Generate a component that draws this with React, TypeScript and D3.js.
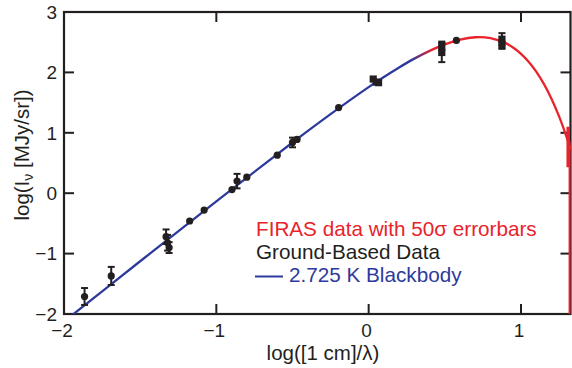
import React from "react";
import * as d3 from "d3";

// Blackbody curve (2.725 K)
const curveX = [-2, -1.5, -1, -0.5, -0.25, 0, 0.1, 0.2, 0.3, 0.4, 0.5, 0.6, 0.7, 0.8, 0.9, 0.95, 1.0, 1.05, 1.1, 1.15, 1.2, 1.25, 1.3, 1.325];
const curveY = [-2.125, -1.127, -0.135, 0.84, 1.31, 1.757, 1.924, 2.082, 2.228, 2.357, 2.465, 2.543, 2.582, 2.568, 2.484, 2.409, 2.308, 2.178, 2.013, 1.81, 1.565, 1.271, 0.924, 0.728];

// FIRAS tail (error band at the high-frequency end)
const firasTailX = [1.31];
const firasTailLo = [0.43];
const firasTailHi = [1.1];
const firasDropX = [1.319];
const firasDropTop = [0.85];

// Ground-based data: x, y, error (0 = none)
const groundCircleX = [-1.865, -1.69, -1.33, -1.32, -1.31, -1.175, -1.08, -0.897, -0.864, -0.8, -0.6, -0.5, -0.47, -0.197, 0.576];
const groundCircleY = [-1.71, -1.37, -0.72, -0.82, -0.9, -0.46, -0.28, 0.06, 0.2, 0.265, 0.63, 0.84, 0.89, 1.417, 2.53];
const groundCircleE = [0.14, 0.15, 0.12, 0.13, 0.09, 0, 0, 0, 0.12, 0, 0, 0.08, 0, 0, 0];

const groundSquareX = [0.03, 0.05, 0.065, 0.48, 0.48, 0.875, 0.875];
const groundSquareY = [1.89, 1.84, 1.83, 2.44, 2.33, 2.55, 2.45];
const groundSquareE = [0, 0, 0, 0.07, 0.16, 0.1, 0.06];

const xTicks = [-2, -1, 0, 1];
const yTicks = [-2, -1, 0, 1, 2, 3];

const legendLabels = ["FIRAS data with 50σ errorbars", "Ground-Based Data", "2.725 K Blackbody"];

const W = 572;
const H = 368;
const L = 64, R = 570.5, T = 12, B = 314;
const INK = "#231f20";
const BLUE = "#2d3a9c";
const RED = "#e8232b";
const FONT = "'Liberation Sans', Arial, Helvetica, sans-serif";

export default function App() {
  const x = d3.scaleLinear().domain([-2, 1.325]).range([L, R]);
  const y = d3.scaleLinear().domain([-2, 3]).range([B, T]);
  const pts: [number, number][] = curveX.map((v, i) => [v, curveY[i]]);
  const line = d3
    .line<[number, number]>()
    .x((d) => x(d[0]))
    .y((d) => y(d[1]))
    .curve(d3.curveCatmullRom.alpha(0.5));
  const fmt = (v: number) => (v < 0 ? "\u2212" + Math.abs(v) : String(v));
  const tickLen = 10;

  const errBar = (cx: number, cy: number, e: number, key: string) =>
    e > 0 ? (
      <g key={key} stroke={INK} strokeWidth={2}>
        <line x1={x(cx)} x2={x(cx)} y1={y(cy + e)} y2={y(cy - e)} />
        <line x1={x(cx) - 3.5} x2={x(cx) + 3.5} y1={y(cy + e)} y2={y(cy + e)} />
        <line x1={x(cx) - 3.5} x2={x(cx) + 3.5} y1={y(cy - e)} y2={y(cy - e)} />
      </g>
    ) : null;

  return (
    <svg width={W} height={H} style={{ position: "absolute", left: 0, top: 0, background: "#fff" }} fontFamily={FONT}>
      <defs>
        <clipPath id="plot">
          <rect x={L} y={T} width={R - L + 1} height={B - T} />
        </clipPath>
        <linearGradient id="bbgrad" gradientUnits="userSpaceOnUse" x1={x(0.28)} x2={x(0.42)} y1={0} y2={0}>
          <stop offset="0" stopColor={BLUE} />
          <stop offset="1" stopColor={RED} />
        </linearGradient>
      </defs>

      {/* frame */}
      <rect x={L} y={T} width={R - L} height={B - T} fill="none" stroke={INK} strokeWidth={2.2} />
      {xTicks.filter((v) => v > -2).map((v) => (
        <g key={"xt" + v} stroke={INK} strokeWidth={2}>
          <line x1={x(v)} x2={x(v)} y1={B} y2={B - tickLen} />
          <line x1={x(v)} x2={x(v)} y1={T} y2={T + tickLen} />
        </g>
      ))}
      {yTicks.filter((v) => v > -2 && v < 3).map((v) => (
        <g key={"yt" + v} stroke={INK} strokeWidth={2}>
          <line x1={L} x2={L + tickLen} y1={y(v)} y2={y(v)} />
          <line x1={R} x2={R - tickLen} y1={y(v)} y2={y(v)} />
        </g>
      ))}

      <g clipPath="url(#plot)">
        <path d={line(pts) || ""} fill="none" stroke="url(#bbgrad)" strokeWidth={2.3} />
        {firasTailX.map((v, i) => (
          <line key={"ft" + i} x1={x(v)} x2={x(v)} y1={y(firasTailHi[i])} y2={y(firasTailLo[i])} stroke={RED} strokeWidth={3.5} />
        ))}
        {firasDropX.map((v, i) => (
          <line key={"fd" + i} x1={x(v)} x2={x(v)} y1={y(firasDropTop[i])} y2={B} stroke={RED} strokeWidth={2} />
        ))}
      </g>

      {/* ground-based data */}
      {groundCircleX.map((v, i) => errBar(v, groundCircleY[i], groundCircleE[i], "ce" + i))}
      {groundSquareX.map((v, i) => errBar(v, groundSquareY[i], groundSquareE[i], "se" + i))}
      {groundCircleX.map((v, i) => (
        <circle key={"c" + i} cx={x(v)} cy={y(groundCircleY[i])} r={3.6} fill={INK} />
      ))}
      {groundSquareX.map((v, i) => (
        <rect key={"s" + i} x={x(v) - 3.6} y={y(groundSquareY[i]) - 3.6} width={7.2} height={7.2} fill={INK} />
      ))}

      {/* tick labels */}
      {xTicks.map((v) => (
        <text key={"xl" + v} x={x(v) - 2} y={337} textAnchor="middle" fontSize={19} fill={INK}>
          {fmt(v)}
        </text>
      ))}
      {yTicks.map((v) => (
        <text key={"yl" + v} x={57} y={y(v)} dy="0.36em" textAnchor="end" fontSize={19} fill={INK}>
          {fmt(v)}
        </text>
      ))}

      {/* axis titles */}
      <text x={323} y={360} textAnchor="middle" fontSize={20.5} fill={INK}>
        log([1 cm]/λ)
      </text>
      <text transform="translate(29,155) rotate(-90)" textAnchor="middle" fontSize={20.5} fill={INK}>
        log(I<tspan fontSize={14} dy={4}>ν</tspan>
        <tspan dy={-4}>{"  [MJy/sr])"}</tspan>
      </text>

      {/* legend */}
      <text x={256} y={236} fontSize={20.7} fill={RED}>{legendLabels[0]}</text>
      <text x={256} y={258.5} fontSize={20.7} fill={INK}>{legendLabels[1]}</text>
      <line x1={255} x2={283} y1={276.5} y2={276.5} stroke={BLUE} strokeWidth={2} />
      <text x={289} y={282} fontSize={20.7} fill={BLUE}>{legendLabels[2]}</text>
    </svg>
  );
}
